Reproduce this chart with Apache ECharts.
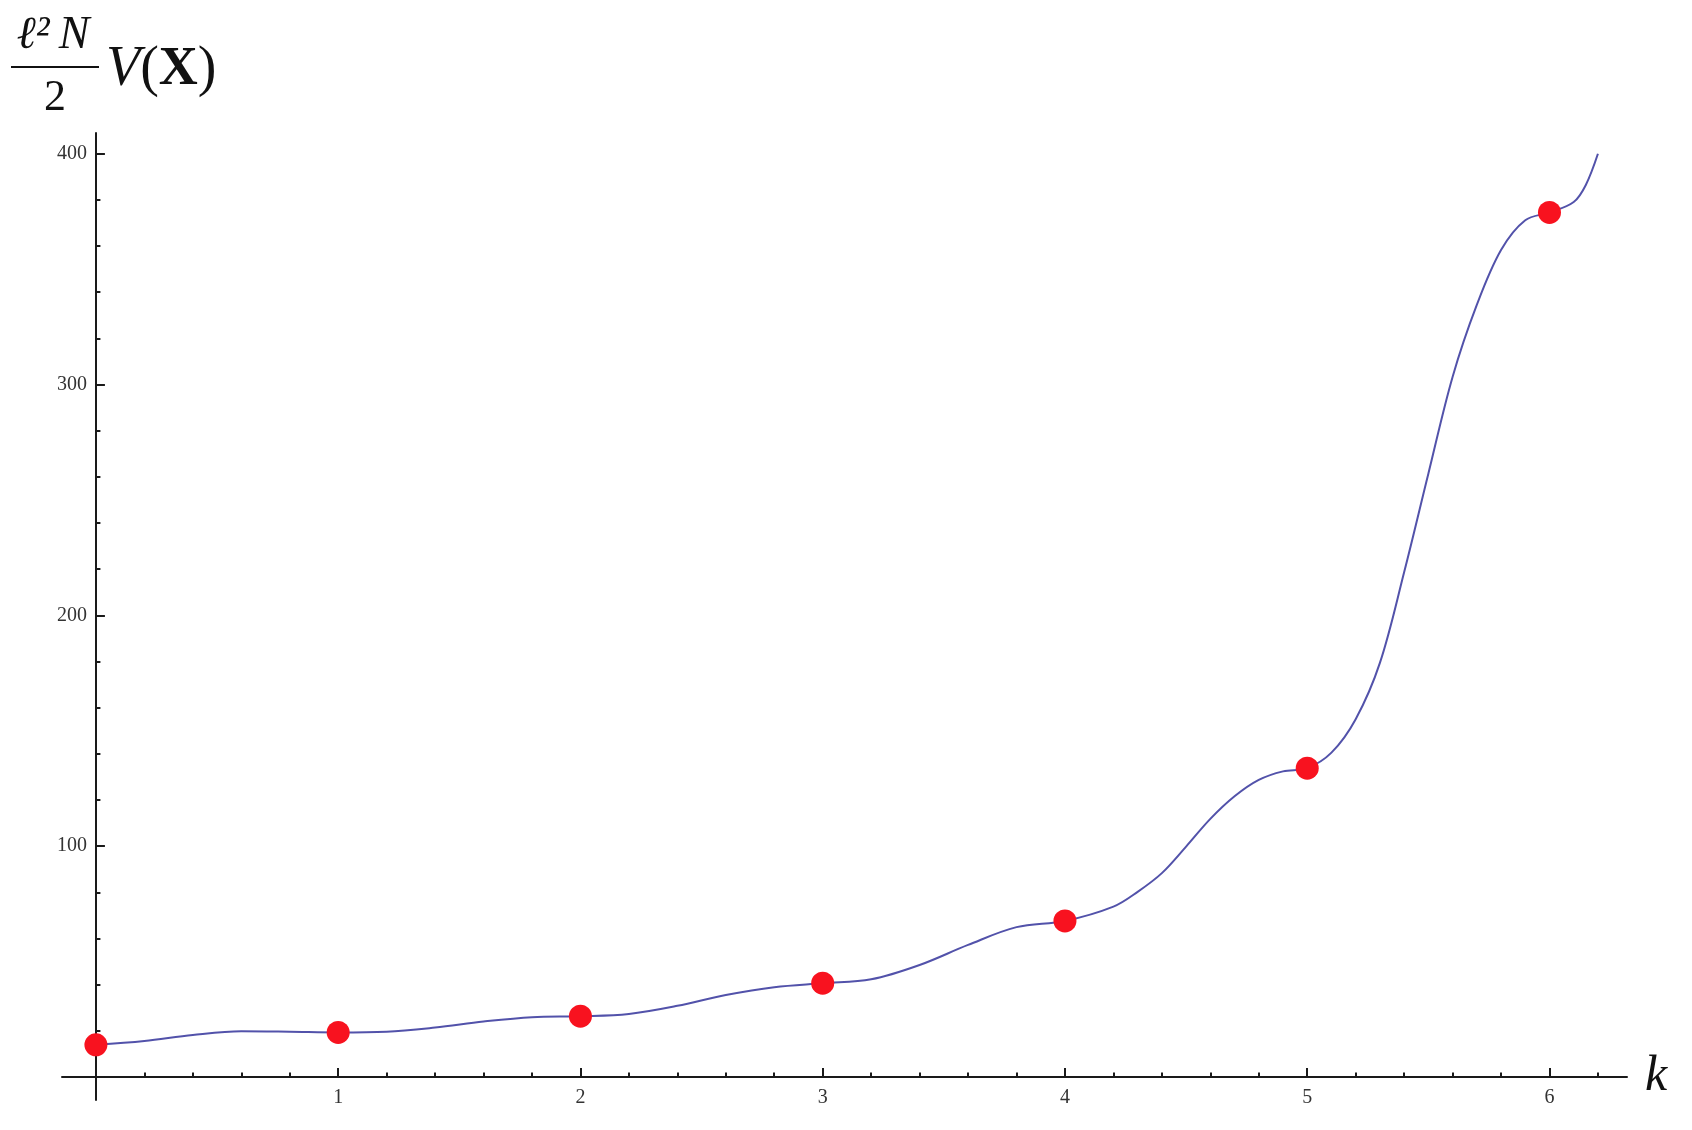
<!DOCTYPE html>
<html>
<head>
<meta charset="utf-8">
<script src="https://cdn.jsdelivr.net/npm/echarts@6/dist/echarts.min.js"></script>
<style>
html, body { margin: 0; padding: 0; background: #fff; }
#main { width: 1692px; height: 1130px; }
</style>
</head>
<body>
<div id="main"></div>
<script>
var curveK = [0, 0.2, 0.4, 0.6, 0.8, 1.0, 1.2, 1.4, 1.6, 1.8, 2.0, 2.2, 2.4, 2.6, 2.8, 3.0,
              3.2, 3.4, 3.6, 3.8, 4.0, 4.2, 4.3, 4.4, 4.5, 4.6, 4.7, 4.8, 4.9, 5.0,
              5.1, 5.2, 5.3, 5.4, 5.5, 5.6, 5.7, 5.8, 5.9, 6.0, 6.1, 6.15, 6.2];
var curveV = [13.9, 15.6, 18.2, 19.8, 19.6, 19.3, 19.6, 21.4, 24.0, 25.9, 26.3, 27.3, 30.8, 35.5, 38.9, 40.6,
              42.3, 48.5, 57.2, 64.9, 67.6, 73.8, 80.2, 88.3, 99.8, 111.8, 121.6, 128.7, 132.4, 133.8,
              140.5, 155.0, 179.4, 218.7, 261.4, 303.3, 334.5, 358.3, 371.2, 374.6, 379.1, 386.5, 400];

// red points at integer k
var pointK = [0, 1, 2, 3, 4, 5, 6];
var pointV = [13.9, 19.3, 26.3, 40.6, 67.6, 133.8, 374.6];

// axis ticks and labels
var xMajor = [0, 1, 2, 3, 4, 5, 6];
var xLabels = [1, 2, 3, 4, 5, 6];
var xMinor = [0.2, 0.4, 0.6, 0.8, 1.2, 1.4, 1.6, 1.8, 2.2, 2.4, 2.6, 2.8, 3.2, 3.4, 3.6, 3.8,
              4.2, 4.4, 4.6, 4.8, 5.2, 5.4, 5.6, 5.8, 6.2];
var yMajor = [0, 100, 200, 300, 400];
var yLabels = [100, 200, 300, 400];
var yMinor = [20, 40, 60, 80, 120, 140, 160, 180, 220, 240, 260, 280, 320, 340, 360, 380];

var serif = '"Liberation Serif", "DejaVu Serif", serif';
var axisColor = '#1a1a1a';

var curveData = curveK.map(function (k, i) { return [k, curveV[i]]; });
var pointData = pointK.map(function (k, i) { return [k, pointV[i]]; });

var chart = echarts.init(document.getElementById('main'), null, { renderer: 'canvas' });

var xRange = { min: -0.14, max: 6.32 };
var yRange = { min: -10, max: 409 };

var option = {
    animation: false,
    backgroundColor: '#fff',
    grid: { left: 62, right: 65, top: 133, bottom: 30, containLabel: false, outerBoundsMode: 'none' },
    xAxis: [
        {
            type: 'value', position: 'bottom', min: xRange.min, max: xRange.max,
            axisLine: { onZero: true, onZeroAxisIndex: 0, lineStyle: { color: axisColor, width: 2 } },
            axisTick: { inside: true, length: 9, customValues: xMajor, lineStyle: { color: axisColor, width: 2 } },
            // labels sit at the grid edge, so pull them up to the zero line
            axisLabel: { customValues: xLabels, margin: -12, fontFamily: serif, fontSize: 20, color: '#333' },
            splitLine: { show: false },
            name: 'k', nameLocation: 'end', nameGap: 18,
            nameTextStyle: { fontFamily: serif, fontStyle: 'italic', fontSize: 50, color: '#111' }
        },
        {
            type: 'value', position: 'bottom', min: xRange.min, max: xRange.max,
            axisLine: { show: false, onZero: true, onZeroAxisIndex: 0 },
            axisTick: { inside: true, length: 4.5, customValues: xMinor, lineStyle: { color: axisColor, width: 2 } },
            axisLabel: { show: false },
            splitLine: { show: false }
        }
    ],
    yAxis: [
        {
            type: 'value', position: 'left', min: yRange.min, max: yRange.max,
            axisLine: { onZero: true, onZeroAxisIndex: 0, lineStyle: { color: axisColor, width: 2 } },
            axisTick: { inside: true, length: 9, customValues: yMajor, lineStyle: { color: axisColor, width: 2 } },
            axisLabel: { customValues: yLabels, margin: -25, fontFamily: serif, fontSize: 20, color: '#333' },
            splitLine: { show: false }
        },
        {
            type: 'value', position: 'left', min: yRange.min, max: yRange.max,
            axisLine: { show: false, onZero: true, onZeroAxisIndex: 0 },
            axisTick: { inside: true, length: 4.5, customValues: yMinor, lineStyle: { color: axisColor, width: 2 } },
            axisLabel: { show: false },
            splitLine: { show: false }
        }
    ],
    series: [
        {
            type: 'line', data: curveData, smooth: 0.35, showSymbol: false, symbol: 'none',
            lineStyle: { color: '#5252aa', width: 2 }, z: 2
        },
        {
            type: 'scatter', data: pointData, symbolSize: 23,
            itemStyle: { color: '#f8121f', opacity: 1 }, z: 3
        }
    ],
    graphic: [
        {
            type: 'text', x: 53, y: 36,
            style: { text: 'ℓ²\u2009N', font: 'italic 46px ' + serif, fill: '#111', align: 'center', verticalAlign: 'middle' }
        },
        {
            type: 'line', shape: { x1: 11, y1: 67, x2: 99, y2: 67 },
            style: { stroke: '#111', lineWidth: 2 }
        },
        {
            type: 'text', x: 55, y: 98,
            style: { text: '2', font: '44px ' + serif, fill: '#111', align: 'center', verticalAlign: 'middle' }
        },
        {
            type: 'text', x: 106, y: 70,
            style: {
                text: '{v|V}{p|(}{b|X}{p|)}', align: 'left', verticalAlign: 'middle', fill: '#111',
                rich: {
                    v: { font: 'italic 56px ' + serif, fill: '#111' },
                    p: { font: '56px ' + serif, fill: '#111' },
                    b: { font: 'bold 54px ' + serif, fill: '#111' }
                }
            }
        }
    ]
};

chart.setOption(option);
</script>
</body>
</html>
